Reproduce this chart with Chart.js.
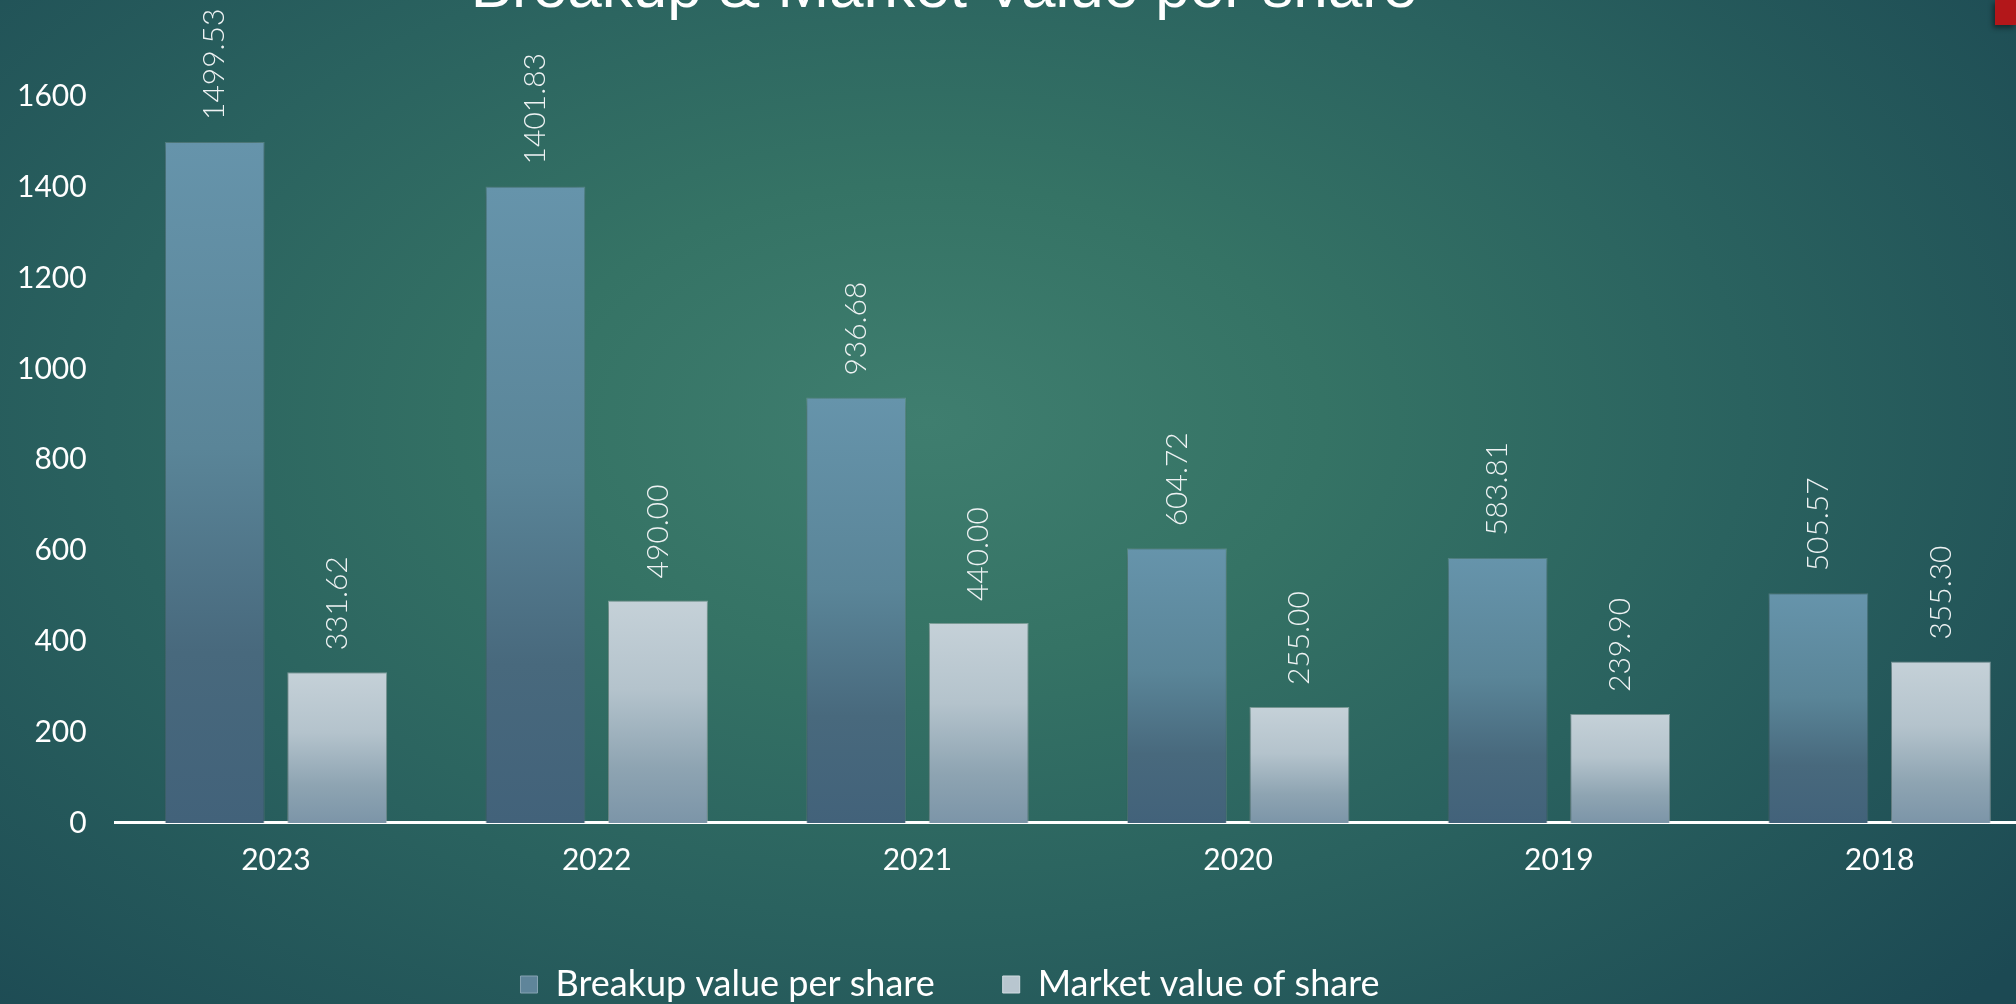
<!DOCTYPE html>
<html lang="en">
<head>
    <meta charset="UTF-8">
    <title>Breakup &amp; Market Value per share</title>
    <script src="https://cdn.jsdelivr.net/npm/chart.js"></script>
    <style>
        html, body {
            margin: 0;
            padding: 0;
            width: 2016px;
            height: 1004px;
            overflow: hidden;
        }
        body {
            background: radial-gradient(ellipse 70% 85% at 46% 42%, #3f7e6f 0%, #357365 28%, #2a625f 58%, #1c4953 100%);
            font-family: Lato, sans-serif;
        }
        .chart-container {
            position: absolute;
            left: 0;
            top: 0;
            width: 2040px;
            height: 1004px;
        }
        .corner {
            position: absolute;
            right: 0;
            top: 0;
            width: 21px;
            height: 25px;
            background: #b3171a;
            box-shadow: -2px 3px 5px rgba(0, 0, 0, 0.45);
        }
    </style>
</head>
<body>
    <div class="chart-container">
        <canvas id="barChart"></canvas>
    </div>
    <div class="corner"></div>

    <script>
        const years = ['2023', '2022', '2021', '2020', '2019', '2018'];
        const breakupValues = [1499.53, 1401.83, 936.68, 604.72, 583.81, 505.57];
        const marketValues = [331.62, 490.00, 440.00, 255.00, 239.90, 355.30];
        const seriesNames = ['Breakup value per share', 'Market value of share'];

        const TITLE_SHIFT = -70;
        const LEGEND_SHIFT = -64;

        // vertical gradient per bar, from its top down to zero
        function barGradient(stops, solid) {
            return function (context) {
                const chart = context.chart;
                if (context.type !== 'data' || !chart.chartArea) {
                    return solid;
                }
                const y = chart.scales.y;
                const top = y.getPixelForValue(context.raw);
                const bottom = y.getPixelForValue(0);
                const g = chart.ctx.createLinearGradient(0, top, 0, bottom);
                stops.forEach(s => g.addColorStop(s[0], s[1]));
                return g;
            };
        }

        const breakupStops = [[0, '#6694ab'], [0.45, '#5a8598'], [0.75, '#48697d'], [1, '#42627a']];
        const marketStops = [[0, '#c5d1d8'], [0.4, '#b4c3cc'], [0.75, '#8ea4b2'], [1, '#7c95a8']];
        const legendFill = ['#5f859a', '#b8c6cf'];
        const legendStroke = ['#87a3b3', '#d2dce2'];

        // shadows under the bars and rotated value labels above them
        const barDecor = {
            id: 'barDecor',
            beforeDatasetsDraw(chart) {
                const c = chart.ctx;
                c.save();
                c.shadowColor = 'rgba(0, 0, 0, 0.35)';
                c.shadowBlur = 10;
                c.shadowOffsetX = -1;
                c.shadowOffsetY = 2;
            },
            afterDatasetsDraw(chart) {
                const c = chart.ctx;
                c.restore();
                c.save();
                c.fillStyle = '#eef2f3';
                c.font = '300 30px Lato';
                c.textAlign = 'left';
                c.textBaseline = 'middle';
                chart.data.datasets.forEach((ds, i) => {
                    chart.getDatasetMeta(i).data.forEach((bar, j) => {
                        c.save();
                        c.translate(bar.x, bar.y - 22);
                        c.rotate(-Math.PI / 2);
                        c.fillText(ds.data[j].toFixed(2), 0, 0);
                        c.restore();
                    });
                });
                c.restore();
            }
        };

        // title and legend sit a bit left of the canvas centre in the original
        const shiftBoxes = {
            id: 'shiftBoxes',
            afterLayout(chart) {
                if (chart.titleBlock) {
                    chart.titleBlock.left += TITLE_SHIFT;
                    chart.titleBlock.right += TITLE_SHIFT;
                }
                if (chart.legend) {
                    chart.legend.left += LEGEND_SHIFT;
                    chart.legend.right += LEGEND_SHIFT;
                }
            }
        };

        const ctx = document.getElementById('barChart').getContext('2d');
        const chart = new Chart(ctx, {
            type: 'bar',
            data: {
                labels: years,
                datasets: [
                    {
                        label: seriesNames[0],
                        data: breakupValues,
                        backgroundColor: barGradient(breakupStops, '#6690a5'),
                        borderColor: 'rgba(190, 215, 225, 0.3)',
                        borderWidth: 1,
                        barPercentage: 0.816,
                        categoryPercentage: 0.764
                    },
                    {
                        label: seriesNames[1],
                        data: marketValues,
                        backgroundColor: barGradient(marketStops, '#bac8d0'),
                        borderColor: 'rgba(235, 242, 245, 0.45)',
                        borderWidth: 1,
                        barPercentage: 0.816,
                        categoryPercentage: 0.764
                    }
                ]
            },
            options: {
                responsive: true,
                maintainAspectRatio: false,
                animation: false,
                layout: {
                    // tick padding is counted on both sides of the labels
                    padding: { left: -12, right: 0, top: 0, bottom: -8.5 }
                },
                plugins: {
                    title: {
                        display: true,
                        text: 'Breakup & Market Value per share',
                        color: '#ffffff',
                        font: { family: 'Liberation Sans', size: 62, weight: 'normal', lineHeight: 1.2 },
                        padding: { top: -47, bottom: 69 }
                    },
                    legend: {
                        position: 'bottom',
                        labels: {
                            color: '#ffffff',
                            font: { family: 'Lato', size: 36 },
                            boxWidth: 17,
                            boxHeight: 17,
                            padding: 68,
                            generateLabels: function (chart) {
                                const items = Chart.defaults.plugins.legend.labels.generateLabels(chart);
                                items.forEach((item, i) => {
                                    item.fillStyle = legendFill[i];
                                    item.strokeStyle = legendStroke[i];
                                    item.lineWidth = 1;
                                });
                                return items;
                            }
                        }
                    },
                    tooltip: { enabled: false }
                },
                scales: {
                    x: {
                        grid: { display: false, drawTicks: false },
                        border: { display: true, color: '#ffffff', width: 3 },
                        ticks: {
                            color: '#ffffff',
                            font: { family: 'Lato', size: 30, lineHeight: 1.92 },
                            padding: 9
                        }
                    },
                    y: {
                        min: 0,
                        max: 1600,
                        grid: { display: false, drawTicks: false },
                        border: { display: false },
                        ticks: {
                            stepSize: 200,
                            color: '#ffffff',
                            font: { family: 'Lato', size: 30 },
                            padding: 29,
                            callback: v => String(v)
                        }
                    }
                }
            },
            plugins: [barDecor, shiftBoxes]
        });
    </script>
</body>
</html>
